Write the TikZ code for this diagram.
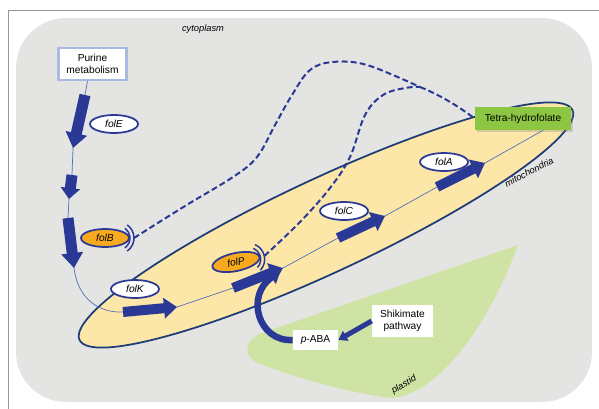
\documentclass[tikz,border=0pt]{standalone}
\usepackage{fontspec}
\setsansfont{Liberation Sans}
\usetikzlibrary{arrows.meta, shapes.geometric, shadows}

\definecolor{cytogray}{RGB}{228,228,226}
\definecolor{framegray}{RGB}{150,150,150}
\definecolor{mitofill}{RGB}{252,230,168}
\definecolor{mitoline}{RGB}{30,60,118}
\definecolor{plastidgreen}{RGB}{207,228,164}
\definecolor{arrowblue}{RGB}{42,56,150}
\definecolor{pathblue}{RGB}{82,112,182}
\definecolor{geneorange}{RGB}{247,170,30}
\definecolor{thfgreen}{RGB}{141,198,66}
\definecolor{purblue}{RGB}{168,186,226}

\begin{document}
\begin{tikzpicture}[font=\sffamily\fontsize{5.8}{6.8}\selectfont, x=0.02cm, y=-0.02cm]
	\def\shaft{0.22cm}
	\def\gshaft{0.2cm}
	\tikzset{
		gene/.style={ellipse, draw=arrowblue, fill=white, line width=0.035cm, minimum width=0.96cm, minimum height=0.36cm, inner sep=0pt, font=\sffamily\itshape\fontsize{5.8}{6.8}\selectfont},
		genehalt/.style={gene, fill=geneorange},
		box/.style={rectangle, fill=white, align=center, inner sep=1pt},
		place/.style={font=\sffamily\itshape\fontsize{5.3}{6.3}\selectfont},
		fatdown/.style={draw=arrowblue, line width=\shaft, -{Triangle[width=0.42cm, length=0.3cm]}},
		fatshort/.style={draw=arrowblue, line width=\shaft, -{Triangle[width=0.38cm, length=0.22cm]}},
		fatright/.style={draw=arrowblue, line width=\gshaft, -{Triangle[width=0.4cm, length=0.26cm]}},
		flow/.style={draw=pathblue, line width=0.4pt},
		halt/.style={draw=arrowblue, line width=0.03cm},
		haltdash/.style={draw=arrowblue, line width=0.04cm, dash pattern=on 3.4pt off 1.8pt},
	}

	\useasboundingbox (0,0) rectangle (599,409);

	% compartments
	\draw[framegray, line width=0.5pt]	(8,409) -- (8,10) -- (599,10);
	\fill[cytogray, rounded corners=1cm]	(16,18) rectangle (592,402);
	\fill[plastidgreen]	(518,245) -- (262,333) .. controls (244,340) and (242,356) .. (258,363)
		.. controls (300,380) and (360,395) .. (392,398) .. controls (440,394) and (490,322) .. (518,245) -- cycle;
	\coordinate (mc) at (326,225);
	\draw[fill=mitofill, draw=mitoline, line width=0.035cm, rotate around={25:(mc)}]	(mc) ellipse [x radius=5.44cm, y radius=0.94cm];

	\node[place] (cyto) at (203,29) {cytoplasm};
	\node[place, rotate=27] (mito) at (529,172) {mitochondria};
	\node[place, rotate=30] (plas) at (404,385) {plastid};

	% boxes and genes
	\node[box, draw=purblue, line width=0.05cm, minimum width=1.36cm, minimum height=0.64cm] (pur) at (92.5,64) {Purine\\metabolism};
	\node[box, fill=thfgreen, minimum width=1.92cm, minimum height=0.46cm, drop shadow={shadow xshift=0.04cm, shadow yshift=-0.05cm, opacity=0.3}] (thf) at (523,118.5) {Tetra-hydrofolate};
	\node[box, minimum width=0.9cm, minimum height=0.4cm] (paba) at (315.5,340) {\textit{p}-ABA};
	\node[box, minimum width=1.22cm, minimum height=0.64cm] (shik) at (402.5,321) {Shikimate\\pathway};

	\node[gene] (folE) at (114,124) {folE};
	\node[genehalt] (folB) at (105,238) {folB};
	\node[gene] (folK) at (135,289) {folK};
	\node[genehalt, rotate=12] (folP) at (236,262) {folP};
	\node[gene] (folC) at (344,211) {folC};
	\node[gene] (folA) at (444,162) {folA};

	% pathway
	\coordinate (e1s) at (85,95);	\coordinate (e1t) at (73,148);
	\coordinate (e2s) at (72,175);	\coordinate (e2t) at (69,199);
	\coordinate (e3s) at (68,218);	\coordinate (e3t) at (74,268);
	\coordinate (k1s) at (123,312);	\coordinate (k1t) at (177,307);
	\coordinate (p1s) at (233,288);	\coordinate (p1t) at (283,268);
	\coordinate (c1s) at (338,238);	\coordinate (c1t) at (385,216);
	\coordinate (a1s) at (437,187);	\coordinate (a1t) at (485,163);

	\draw[flow]	([xshift=-0.1cm]pur.south) -- (e1s) -- (e1t) -- (e2s) -- (e2t) -- (e3s) -- (e3t)
		.. controls (78,300) and (100,313) .. (k1s) -- (k1t) -- (p1s) -- (p1t) -- (c1s) -- (c1t)
		-- (a1s) -- (a1t) -- ([xshift=0.4cm]thf.south);

	\draw[fatdown]	(e1s) -- (e1t);
	\draw[fatshort]	(e2s) -- (e2t);
	\draw[fatdown]	(e3s) -- (e3t);
	\draw[fatright]	(k1s) -- (k1t);
	\draw[fatright]	(p1s) -- (p1t);
	\draw[fatright]	(c1s) -- (c1t);
	\draw[fatright]	(a1s) -- (a1t);

	% p-ABA supply
	\draw[draw=arrowblue, line width=0.1cm, -{Triangle[width=0.22cm, length=0.17cm]}]	(shik.west) -- (paba.east);
	\draw[draw=arrowblue, line width=0.13cm, -{Triangle[width=0.3cm, length=0.2cm]}]	(paba.west) .. controls (258,342) and (245,295) .. (280,272);

	% feedback from THF
	\coordinate (iB) at (118,238);
	\coordinate (iP) at (248.7,259.3);
	\draw[halt]	([shift={(-55:0.24cm)}]iB) arc[start angle=-55, end angle=55, radius=0.24cm];
	\draw[halt]	([shift={(-55:0.32cm)}]iB) arc[start angle=-55, end angle=55, radius=0.32cm];
	\draw[halt]	([shift={(-43:0.24cm)}]iP) arc[start angle=-43, end angle=67, radius=0.24cm];
	\draw[halt]	([shift={(-43:0.32cm)}]iP) arc[start angle=-43, end angle=67, radius=0.32cm];
	\coordinate (iBo) at ([shift={(0:0.32cm)}]iB);
	\coordinate (iPo) at ([shift={(12:0.32cm)}]iP);
	\coordinate (m) at (420,87);

	\draw[haltdash]	plot[smooth, tension=0.6] coordinates {(iBo) (185,206) (233,177) (257,157) (275,125) (292,95) (310,70) (333,62) (367,65) (m)};
	\draw[haltdash]	plot[smooth, tension=0.6] coordinates {(iPo) (300,222) (330,188) (350,157) (365,115) (383,95) (405,88) (m)};
	\draw[haltdash]	(m) .. controls (440,95) and (458,106) .. (thf.west);
\end{tikzpicture}
\end{document}
